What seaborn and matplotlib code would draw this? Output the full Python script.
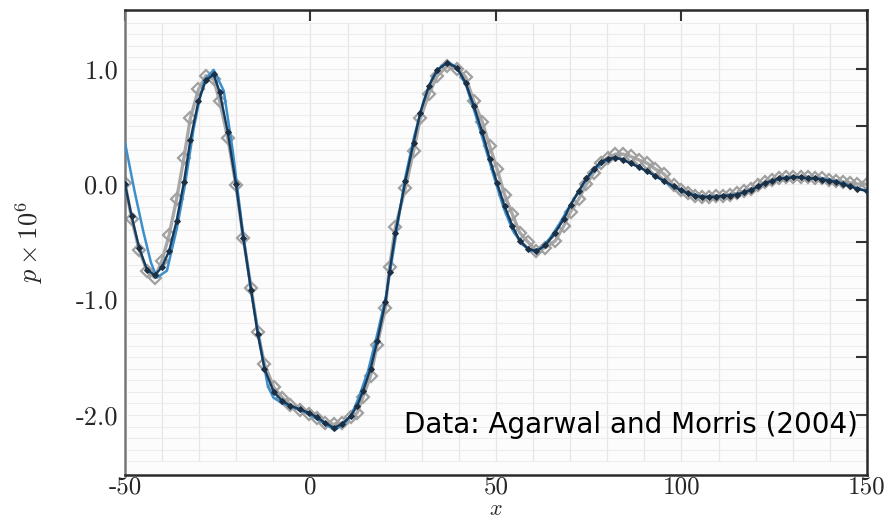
import numpy as np
import pandas as pd
import seaborn as sns
import matplotlib.pyplot as plt

x_pts = [-50, -48.2, -46.2, -44.1, -42.0, -40.1, -38.1, -36.1, -34.1, -32.4,
         -30.2, -28.2, -26.1, -24.5, -22.3, -20.1, -18.1, -16.0, -14.2, -12.4,
         -9.9, -7.6, -5.4, -2.9, -0.5, 1.8, 4.0, 6.3, 8.5, 10.8,
         12.6, 14.2, 16.2, 18.0, 20.2, 21.3, 22.9, 25.6, 27.8, 29.6,
         31.9, 34.2, 36.8, 39.5, 41.8, 44.0, 46.3, 48.3, 50.3, 52.3,
         54.4, 56.4, 58.6, 60.9, 63.3, 66.0, 68.3, 70.1, 72.3, 74.4,
         76.4, 78.2, 80.1, 82.2, 84.3, 86.3, 88.5, 90.8, 93.0, 95.2,
         97.9, 99.8, 101.7, 103.6, 105.5, 107.4, 109.3, 111.2, 113.1, 115.0,
         116.9, 118.8, 120.7, 122.6, 124.5, 126.4, 128.3, 130.2, 132.1, 134.0,
         135.9, 137.8, 139.7, 141.6, 143.5, 145.4, 147.3, 150.0]

p_data = [0.01, -0.30, -0.57, -0.75, -0.81, -0.67, -0.44, -0.13, 0.23, 0.57,
          0.82, 0.94, 0.91, 0.72, 0.40, -0.01, -0.47, -0.90, -1.28, -1.56,
          -1.76, -1.85, -1.91, -1.96, -1.99, -2.03, -2.07, -2.08, -2.07, -2.02,
          -1.98, -1.84, -1.66, -1.39, -1.07, -0.72, -0.37, -0.03, 0.29, 0.57,
          0.78, 0.94, 1.02, 1.00, 0.93, 0.72, 0.54, 0.33, 0.13, -0.09,
          -0.26, -0.42, -0.50, -0.58, -0.55, -0.49, -0.36, -0.24, -0.13, 0.00,
          0.10, 0.18, 0.23, 0.26, 0.26, 0.24, 0.21, 0.18, 0.13, 0.09,
          -0.01, -0.05, -0.08, -0.10, -0.11, -0.11, -0.10, -0.10, -0.09, -0.08,
          -0.06, -0.04, -0.01, 0.02, 0.04, 0.05, 0.06, 0.06, 0.06, 0.06,
          0.05, 0.05, 0.04, 0.03, 0.02, 0.01, 0.00, 0.00]

p_model = [0.00, -0.28, -0.55, -0.74, -0.79, -0.72, -0.58, -0.32, 0.02, 0.38,
           0.72, 0.90, 0.95, 0.80, 0.45, 0.00, -0.47, -0.92, -1.30, -1.60,
           -1.80, -1.88, -1.92, -1.95, -1.98, -2.02, -2.07, -2.11, -2.08, -2.01,
           -1.92, -1.79, -1.60, -1.36, -1.02, -0.76, -0.42, 0.03, 0.36, 0.62,
           0.85, 0.99, 1.05, 1.01, 0.88, 0.68, 0.45, 0.22, 0.01, -0.19,
           -0.36, -0.49, -0.56, -0.58, -0.53, -0.42, -0.30, -0.18, -0.06, 0.05,
           0.13, 0.19, 0.22, 0.23, 0.21, 0.18, 0.15, 0.11, 0.07, 0.03,
           -0.02, -0.05, -0.08, -0.10, -0.11, -0.11, -0.11, -0.10, -0.10, -0.09,
           -0.07, -0.05, -0.02, 0.01, 0.03, 0.05, 0.05, 0.06, 0.06, 0.05,
           0.05, 0.04, 0.03, 0.02, 0.00, -0.02, -0.04, -0.06]

x_coarse = [-50, -47.5, -45, -43, -41.4, -38.7, -36, -33.8, -31.5, -30,
            -28.6, -26.1, -23.4, -21, -18.5, -16, -13.5, -11.5, -10, -7.5,
            -5, -2.5, 0, 2.5, 5, 6.5, 9, 11, 13, 15.5,
            18, 20.5, 23, 25.5, 28, 30.5, 33, 35.5, 37.5, 39.5,
            42, 44.5, 47, 49.5, 52, 54.5, 57, 59.5, 62, 64.5,
            67, 69.5, 72, 74.5, 77, 79.5, 82, 84.5, 87, 89.5,
            92, 94.5, 97, 99.5, 102, 104.5, 107, 109.5, 112, 114.5,
            117, 119.5, 122, 124.5, 127, 129.5, 132, 134.5, 137, 139.5,
            142, 144.5, 147, 150]
p_coarse = [0.36, -0.05, -0.42, -0.68, -0.81, -0.75, -0.38, 0.00, 0.48, 0.72,
            0.90, 0.99, 0.81, 0.30, -0.35, -0.93, -1.40, -1.75, -1.85, -1.90,
            -1.93, -1.96, -2.00, -2.05, -2.10, -2.13, -2.08, -2.00, -1.85, -1.62,
            -1.30, -0.95, -0.45, 0.05, 0.42, 0.72, 0.93, 1.03, 1.05, 1.01,
            0.85, 0.60, 0.33, 0.06, -0.20, -0.40, -0.52, -0.58, -0.56, -0.47,
            -0.35, -0.21, -0.08, 0.05, 0.14, 0.20, 0.23, 0.21, 0.17, 0.13,
            0.09, 0.04, -0.01, -0.05, -0.08, -0.10, -0.11, -0.11, -0.10, -0.09,
            -0.07, -0.04, 0.00, 0.03, 0.05, 0.06, 0.06, 0.05, 0.05, 0.04,
            0.02, 0.00, -0.03, -0.06]

y_ticks = [-2.0, -1.5, -1.0, -0.5, 0.0, 0.5, 1.0]
y_ticklabels = ['-2.0', '', '-1.0', '', '0.0', '', '1.0']
x_ticks = [-50, 0, 50, 100, 150]
x_ticklabels = ['-50', '0', '50', '100', '150']

sns.set_theme(style='white')
plt.rcParams['mathtext.fontset'] = 'cm'
plt.rcParams['font.family'] = ['DejaVu Sans']

fig = plt.figure(figsize=(8.91, 5.19), dpi=100)
ax = fig.add_axes([0.1403, 0.0848, 0.8327, 0.8962])
ax.set_facecolor('#fcfcfc')

# inset grid
ax.vlines(np.arange(-40, 150, 10), -2.4, 1.4, color='#e6e6e6', lw=0.9, zorder=0)
ax.hlines(np.round(np.arange(-2.4, 1.45, 0.1), 2), -49.5, 149.8, color='#ececec', lw=0.8, zorder=0)

sns.lineplot(x=x_pts, y=p_data, ax=ax, color='#a8a8a8', lw=2.4, marker='D',
             markersize=6.5, markerfacecolor='none', markeredgecolor='#a0a0a0',
             markeredgewidth=1.6, zorder=2)
sns.lineplot(x=x_coarse, y=p_coarse, ax=ax, color='#3d8fcc', lw=1.8, zorder=3)
sns.lineplot(x=x_pts, y=p_model, ax=ax, color='#163a5c', lw=1.7, marker='D',
             markersize=3, markerfacecolor='#1b2f45', markeredgecolor='#1b2f45', zorder=4)

ax.set_xlim(-50, 150)
ax.set_ylim(-2.52, 1.51)
ax.set_xticks(x_ticks)
ax.set_xticklabels(x_ticklabels)
ax.set_yticks(y_ticks)
ax.set_yticklabels(y_ticklabels)
ax.tick_params(axis='both', direction='in', length=8, width=1.5, color='#333333',
               top=True, right=True, labelsize=19)
ax.tick_params(axis='x', pad=1, labelsize=18)
ax.tick_params(axis='y', pad=5)
for lab in ax.get_xticklabels() + ax.get_yticklabels():
    lab.set_family('cmr10')
for s in ax.spines.values():
    s.set_color('#2a2a2a')
    s.set_linewidth(1.8)
ax.spines['left'].set_color('#777777')

ax.set_xlabel('$x$', fontsize=16, labelpad=0)
ax.set_ylabel(r'$p \times 10^6$', fontsize=19, labelpad=22)

ax.text(25.1, -2.155, 'Data: Agarwal and Morris (2004)', fontsize=20,
        family='DejaVu Sans', color='black', va='baseline', ha='left', zorder=5)

fig.savefig('out.png', dpi=100)
